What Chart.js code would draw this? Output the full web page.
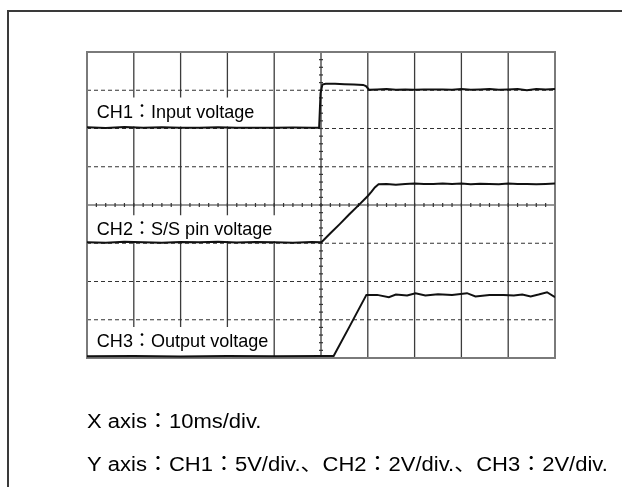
<!DOCTYPE html>
<html>
<head>
<meta charset="utf-8">
<script src="https://cdn.jsdelivr.net/npm/chart.js@4"></script>
<style>
  html, body { margin: 0; padding: 0; background: #fff; }
  #wrap { position: relative; width: 622px; height: 487px; overflow: hidden; }
  #frame { position: absolute; left: 7px; top: 10px; width: 700px; height: 600px; border: 2px solid #3a3a3a; box-sizing: border-box; }
  #scope { position: absolute; left: 0; top: 0; }
</style>
</head>
<body>
<div id="wrap">
  <div id="frame"></div>
  <canvas id="scope" width="622" height="487"></canvas>
</div>
<script>
// time in ms, voltage in V
const ch1Time = [0, 4, 8, 12, 16, 20, 24, 28, 32, 36, 40, 44, 48, 49.6, 49.9, 50.3, 51, 53, 55, 57, 59, 59.6, 60.3, 62, 64, 66, 68, 70, 72, 74, 76, 78, 80, 82, 84, 86, 88, 90, 92, 94, 96, 98, 100];
const ch1Volt = [0.15, 0.05, 0.2, 0.1, 0.15, 0.1, 0.1, 0.15, 0.1, 0.1, 0.1, 0.12, 0.1, 0.1, 4.6, 5.75, 5.85, 5.85, 5.8, 5.75, 5.7, 5.55, 5.05, 5.1, 5.15, 5.05, 5.1, 5.05, 5.1, 5.1, 5.1, 5.05, 5.15, 5.05, 5.1, 5.15, 5.05, 5.1, 5.15, 5.0, 5.15, 5.1, 5.15];

const ch2Time = [0, 4, 8, 12, 16, 20, 24, 28, 32, 36, 40, 44, 48, 50.1, 52, 54, 56, 58, 60, 60.8, 61.5, 62.3, 64, 66, 68, 70, 72, 74, 76, 78, 80, 82, 84, 86, 88, 90, 92, 94, 96, 98, 100];
const ch2Volt = [0.05, 0.03, 0.08, 0.05, 0.02, 0.06, 0.05, 0.08, 0.04, 0.06, 0.05, 0.03, 0.06, 0.05, 0.52, 1.0, 1.5, 1.98, 2.47, 2.7, 2.92, 3.08, 3.1, 3.06, 3.1, 3.12, 3.1, 3.1, 3.12, 3.1, 3.12, 3.08, 3.11, 3.1, 3.08, 3.12, 3.1, 3.1, 3.08, 3.1, 3.12];

const ch3Time = [0, 10, 20, 30, 40, 50, 52.7, 56, 59.7, 62, 64.5, 66, 68.4, 70.2, 72.3, 75, 78, 81.2, 83, 86, 89, 91.2, 93, 94.8, 96.5, 98.3, 100];
const ch3Volt = [0.09, 0.1, 0.08, 0.1, 0.09, 0.1, 0.1, 1.6, 3.3, 3.3, 3.18, 3.32, 3.27, 3.39, 3.27, 3.33, 3.3, 3.39, 3.22, 3.3, 3.3, 3.27, 3.32, 3.22, 3.32, 3.44, 3.18];

const channelNames = ['CH1：Input voltage', 'CH2：S/S pin voltage', 'CH3：Output voltage'];
const noteLines = ['X axis：10ms/div.', 'Y axis：CH1：5V/div.、CH2：2V/div.、CH3：2V/div.'];

const toPoints = (t, v) => t.map((x, i) => ({ x: x, y: v[i] }));

const FONT = "19px 'Liberation Sans', Arial, 'Noto Sans CJK JP', sans-serif";
const NOTE_FONT = "20px 'Liberation Sans', Arial, 'Noto Sans CJK JP', sans-serif";

// graticule, centre ticks and channel labels
const scopeScreen = {
  id: 'scopeScreen',
  beforeDatasetsDraw(chart) {
    const { ctx, chartArea: a, scales } = chart;
    const xs = scales.x, ys = scales.ch1;
    const cx = xs.getPixelForValue(50), cy = ys.getPixelForValue(-10);
    ctx.save();

    // vertical divisions
    ctx.strokeStyle = '#3c3c3c';
    ctx.lineWidth = 1.3;
    for (let t = 10; t < 100; t += 10) {
      const px = xs.getPixelForValue(t);
      ctx.beginPath(); ctx.moveTo(px, a.top); ctx.lineTo(px, a.bottom); ctx.stroke();
    }

    // horizontal divisions, dashed except the centre line
    for (let v = -25; v < 10; v += 5) {
      const py = ys.getPixelForValue(v);
      ctx.setLineDash(v === -10 ? [] : [4, 3]);
      ctx.strokeStyle = '#333';
      ctx.lineWidth = 1.2;
      ctx.beginPath(); ctx.moveTo(a.left, py); ctx.lineTo(a.right, py); ctx.stroke();
    }
    ctx.setLineDash([]);

    // minor ticks on the centre axes
    ctx.strokeStyle = '#333';
    ctx.lineWidth = 1.2;
    for (let t = 2; t < 100; t += 2) {
      const px = xs.getPixelForValue(t);
      ctx.beginPath(); ctx.moveTo(px, cy - 2); ctx.lineTo(px, cy + 2); ctx.stroke();
    }
    for (let v = -29; v < 10; v += 1) {
      const py = ys.getPixelForValue(v);
      ctx.beginPath(); ctx.moveTo(cx - 2, py); ctx.lineTo(cx + 2, py); ctx.stroke();
    }

    // outer border
    ctx.strokeStyle = '#7a7a7a';
    ctx.lineWidth = 2;
    ctx.strokeRect(a.left, a.top, a.right - a.left, a.bottom - a.top);

    // channel labels on white boxes, set a little narrow
    ctx.font = FONT;
    ctx.textBaseline = 'alphabetic';
    const squeeze = 0.95;
    const lift = [11, 8, 11];
    ['ch1', 'ch2', 'ch3'].forEach((id, i) => {
      const ground = scales[id].getPixelForValue(0);
      const base = ground - lift[i];
      const x0 = xs.getPixelForValue(2.1);
      const w = ctx.measureText(channelNames[i]).width * squeeze;
      ctx.fillStyle = '#fff';
      ctx.fillRect(a.left + 1, base - 20, x0 + w + 4 - a.left - 1, ground - 2 - (base - 20));
      ctx.save();
      ctx.translate(x0, base);
      ctx.scale(squeeze, 1);
      ctx.fillStyle = '#000';
      ctx.fillText(channelNames[i], 0, 0);
      ctx.restore();
    });
    ctx.restore();
  },
  afterDraw(chart) {
    const { ctx, chartArea: a } = chart;
    ctx.save();
    ctx.font = NOTE_FONT;
    ctx.fillStyle = '#000';
    // the notes are set slightly wide
    ctx.translate(a.left, 0);
    ctx.scale(1.1, 1);
    ctx.fillText(noteLines[0], 0, a.bottom + 70);
    ctx.fillText(noteLines[1], 0, a.bottom + 113);
    ctx.restore();
  }
};

const trace = (data, axis) => ({
  data: data,
  yAxisID: axis,
  borderColor: '#111',
  borderWidth: 2,
  pointRadius: 0,
  tension: 0,
  fill: false
});

new Chart(document.getElementById('scope'), {
  type: 'line',
  data: {
    datasets: [
      trace(toPoints(ch1Time, ch1Volt), 'ch1'),
      trace(toPoints(ch2Time, ch2Volt), 'ch2'),
      trace(toPoints(ch3Time, ch3Volt), 'ch3')
    ]
  },
  options: {
    responsive: false,
    animation: false,
    layout: { padding: { left: 87, right: 67, top: 52, bottom: 129 } },
    plugins: { legend: { display: false }, tooltip: { enabled: false } },
    scales: {
      x: { type: 'linear', min: 0, max: 100, display: false },
      // 5V/div, ground two divisions above centre
      ch1: { type: 'linear', min: -30, max: 10, display: false },
      // 2V/div, ground one division below centre
      ch2: { type: 'linear', min: -6, max: 10, display: false },
      // 2V/div, ground on the bottom line
      ch3: { type: 'linear', min: 0, max: 16, display: false }
    }
  },
  plugins: [scopeScreen]
});
</script>
</body>
</html>
